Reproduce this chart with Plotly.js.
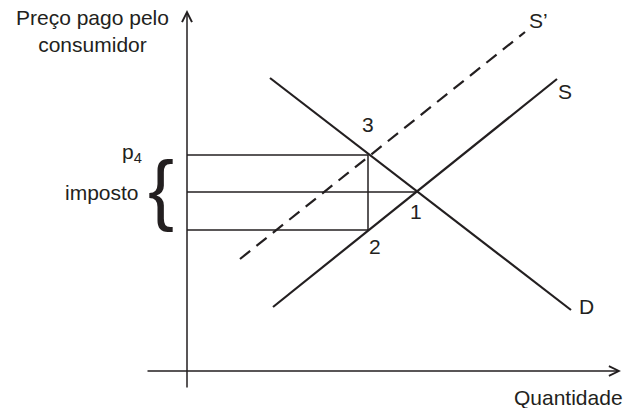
<!DOCTYPE html>
<html>
<head>
<meta charset="utf-8">
<script src="https://cdn.plot.ly/plotly-3.0.1.min.js"></script>
<style>html,body{margin:0;padding:0;background:#fff;}#chart{width:637px;height:408px;}</style>
</head>
<body>
<div id="chart"></div>
<script>
// Curve endpoints (quantity, price)
const demandQ = [8.3, 38.4];
const demandP = [29.3, 6.1];
const supplyQ = [8.6, 37.0];
const supplyP = [6.4, 29.2];
const supplyTaxQ = [5.3, 33.8];
const supplyTaxP = [11.2, 33.9];
const curveNames = ['D', 'S', 'S\u2019'];
// Marked points: 1 = equilibrium, 2 = price received by producer, 3 = price paid by consumer
const pointNames = ['1', '2', '3'];
const pointQ = [22.9, 18.1, 18.1];
const pointP = [17.9, 14.1, 21.6];
// Axes extents
const axisQ = [-4.1, 43.4];
const axisP = [-1.8, 36.1];
const yLabel = 'Preço pago pelo<br>consumidor';
const xLabel = 'Quantidade';
const priceLabel = 'p<sub>4</sub>';
const taxLabel = 'imposto';

const ink = '#231f20';
const font = {family: 'Liberation Sans, Arial, sans-serif', size: 21, color: ink};

const traces = [
  {x: demandQ, y: demandP, mode: 'lines', line: {color: ink, width: 2.2}, hoverinfo: 'skip'},
  {x: supplyQ, y: supplyP, mode: 'lines', line: {color: ink, width: 2.2}, hoverinfo: 'skip'},
  {x: supplyTaxQ, y: supplyTaxP, mode: 'lines', line: {color: ink, width: 2.2, dash: '13px,8px'}, hoverinfo: 'skip'},
  // guide lines from the price axis to the points
  {x: [0, pointQ[2]], y: [pointP[2], pointP[2]], mode: 'lines', line: {color: ink, width: 1.5}, hoverinfo: 'skip'},
  {x: [0, pointQ[0]], y: [pointP[0], pointP[0]], mode: 'lines', line: {color: ink, width: 1.5}, hoverinfo: 'skip'},
  {x: [0, pointQ[1]], y: [pointP[1], pointP[1]], mode: 'lines', line: {color: ink, width: 1.5}, hoverinfo: 'skip'},
  {x: [pointQ[1], pointQ[2]], y: [pointP[1], pointP[2]], mode: 'lines', line: {color: ink, width: 1.5}, hoverinfo: 'skip'}
];

const ann = [];
// axes with arrowheads
ann.push({x: axisQ[1], y: 0, ax: axisQ[0], ay: 0, axref: 'x', ayref: 'y', xref: 'x', yref: 'y',
  text: '', showarrow: true, arrowhead: 5, arrowsize: 1.3, arrowwidth: 1.5, arrowcolor: ink, standoff: 0, startstandoff: 0});
ann.push({x: 0, y: axisP[1], ax: 0, ay: axisP[0], axref: 'x', ayref: 'y', xref: 'x', yref: 'y',
  text: '', showarrow: true, arrowhead: 5, arrowsize: 1.3, arrowwidth: 1.5, arrowcolor: ink, standoff: 0, startstandoff: 0});
// axis labels
ann.push({x: -9.5, y: 34.0, xref: 'x', yref: 'y', text: yLabel, showarrow: false, font: font, align: 'center'});
ann.push({x: 38.1, y: -2.6, xref: 'x', yref: 'y', text: xLabel, showarrow: false, font: font});
// curve labels
ann.push({x: demandQ[1], y: demandP[1], xref: 'x', yref: 'y', text: curveNames[0], showarrow: false, font: font, xshift: 15, yshift: 4});
ann.push({x: supplyQ[1], y: supplyP[1], xref: 'x', yref: 'y', text: curveNames[1], showarrow: false, font: font, xshift: 8, yshift: -12});
ann.push({x: supplyTaxQ[1], y: supplyTaxP[1], xref: 'x', yref: 'y', text: curveNames[2], showarrow: false, font: font, xshift: 13, yshift: 12});
// point labels
ann.push({x: pointQ[0], y: pointP[0], xref: 'x', yref: 'y', text: pointNames[0], showarrow: false, font: font, yshift: -19});
ann.push({x: pointQ[1], y: pointP[1], xref: 'x', yref: 'y', text: pointNames[1], showarrow: false, font: font, xshift: 7, yshift: -16});
ann.push({x: pointQ[2], y: pointP[2], xref: 'x', yref: 'y', text: pointNames[2], showarrow: false, font: font, yshift: 31});
// price and tax labels
ann.push({x: 0, y: pointP[2], xref: 'x', yref: 'y', text: priceLabel, showarrow: false, font: font, xanchor: 'right', xshift: -43, yshift: 2});
ann.push({x: 0, y: pointP[0], xref: 'x', yref: 'y', text: taxLabel, showarrow: false, font: font, xanchor: 'right', xshift: -46});
ann.push({x: 0, y: (pointP[1] + pointP[2]) / 2, xref: 'x', yref: 'y', text: '{', showarrow: false,
  font: {family: 'Liberation Sans, Arial, sans-serif', size: 78, color: ink}, xshift: -26, yshift: 4});

const layout = {
  width: 637, height: 408,
  margin: {l: 0, r: 0, t: 0, b: 0},
  paper_bgcolor: '#fff', plot_bgcolor: '#fff',
  showlegend: false,
  xaxis: {range: [-18.7, 45.0], visible: false, fixedrange: true},
  yaxis: {range: [-3.7, 37.1], visible: false, fixedrange: true},
  annotations: ann
};

Plotly.newPlot('chart', traces, layout, {displayModeBar: false, staticPlot: true});
</script>
</body>
</html>
